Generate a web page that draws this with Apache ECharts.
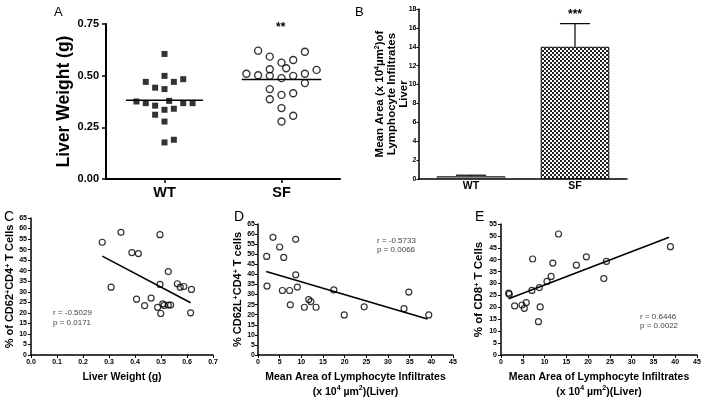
<!DOCTYPE html>
<html><head><meta charset="utf-8">
<script src="https://cdn.jsdelivr.net/npm/echarts@6/dist/echarts.min.js"></script>
<style>html,body{margin:0;padding:0;background:#fff}#c{width:705px;height:403px}</style>
</head><body><div id="c"></div><script>
const FONT = "'Liberation Sans', Arial, sans-serif";

// ---- Panel A: liver weight (g) per mouse, with horizontal jitter within group ----
const groupsA = ['WT', 'SF'];
const wtJitter = [0, 0, -0.16, 0.08, 0.16, -0.08, 0, -0.24, -0.16, 0.16, 0.24, -0.08, 0.04, 0, 0.08, -0.08, 0, 0, 0.08];
const wtWeight = [0.605, 0.499, 0.470, 0.470, 0.483, 0.442, 0.435, 0.375, 0.367, 0.367, 0.367, 0.355, 0.378, 0.335, 0.340, 0.311, 0.278, 0.177, 0.190];
const sfJitter = [-0.2, -0.1, 0.2, 0, 0.1, 0.04, -0.1, 0.3, -0.3, -0.2, -0.1, 0, 0.1, 0.2, 0.2, -0.1, 0, 0.1, -0.1, 0, 0.1, 0];
const sfWeight = [0.621, 0.592, 0.616, 0.563, 0.576, 0.536, 0.531, 0.528, 0.509, 0.502, 0.499, 0.488, 0.499, 0.509, 0.464, 0.435, 0.407, 0.415, 0.386, 0.343, 0.306, 0.278];

// ---- Panel B: mean area of lymphocyte infiltrates (x10^4 um^2) ----
const groupsB = ['WT', 'SF'];
const areaMean = [0.3, 14.0];
const areaSem = [0.1, 2.45];

// ---- Panel C: % CD62+CD4+ vs liver weight ----
const cWeight = [0.274, 0.346, 0.496, 0.388, 0.413, 0.308, 0.528, 0.496, 0.563, 0.574, 0.588, 0.617, 0.406, 0.462, 0.437, 0.487, 0.507, 0.512, 0.528, 0.537, 0.499, 0.614];
const cCD62 = [53.5, 58.2, 57.1, 48.6, 48.1, 32.2, 39.6, 33.5, 33.8, 32.2, 32.5, 31.1, 26.5, 27.0, 23.4, 22.6, 24.3, 23.5, 23.7, 23.7, 19.7, 20.0];
const cFitX = [0.274, 0.614];
const cFitY = [46.9, 24.8];

// ---- Panel D: % CD62L+CD4+ vs infiltrate area ----
const dArea = [3.46, 5.0, 8.7, 2.0, 5.93, 8.7, 2.08, 9.08, 5.63, 7.3, 17.5, 34.8, 7.46, 11.7, 12.2, 10.7, 13.4, 24.5, 33.7, 19.9, 39.4];
const dCD62L = [58.4, 53.6, 57.4, 48.9, 48.4, 39.8, 34.2, 33.7, 32.0, 32.0, 32.3, 31.2, 24.9, 27.5, 26.5, 23.7, 23.7, 23.9, 23.0, 19.9, 19.9];
const dFitX = [1.9, 39.1];
const dFitY = [41.4, 17.9];

// ---- Panel E: % CD8+ vs infiltrate area ----
const eArea = [1.76, 1.9, 3.13, 4.82, 5.35, 5.8, 7.1, 7.26, 8.8, 9.0, 8.6, 10.56, 11.5, 11.9, 13.2, 17.3, 19.6, 23.6, 24.2, 38.9];
const eCD8 = [26.0, 25.5, 20.6, 21.0, 19.6, 22.0, 27.1, 40.3, 28.3, 20.2, 14.0, 30.9, 33.0, 38.6, 50.8, 37.7, 41.2, 32.1, 39.3, 45.5];
const eFitX = [1.75, 38.6];
const eFitY = [23.6, 49.4];

const stats = { C: ['r = -0.5029', 'p = 0.0171'], D: ['r = -0.5733', 'p = 0.0066'], E: ['r = 0.6446', 'p = 0.0022'] };

const zip = (a, b) => a.map((v, i) => [v, b[i]]);
const mean = a => a.reduce((s, v) => s + v, 0) / a.length;

// checker pattern for SF bar
const pc = document.createElement('canvas');
pc.width = 4; pc.height = 4;
const g = pc.getContext('2d');
g.fillStyle = '#fff'; g.fillRect(0, 0, 4, 4);
g.fillStyle = '#222'; g.fillRect(0, 0, 2, 2); g.fillRect(2, 2, 2, 2);

const black = '#000';
function axisCommon(extra) {
  return Object.assign({
    axisLine: { show: true, lineStyle: { color: black, width: 1.5 } },
    axisTick: { show: true, length: 3, lineStyle: { color: black, width: 1 } },
    axisLabel: { color: black, fontFamily: FONT, fontWeight: 'bold', fontSize: 7, margin: 4 },
    splitLine: { show: false },
    nameLocation: 'middle',
    nameTextStyle: { color: black, fontFamily: FONT, fontWeight: 'bold', fontSize: 11 }
  }, extra);
}
const supRich = { sup: { fontSize: 7, fontWeight: 'bold', fontFamily: FONT, color: black, verticalAlign: 'top' } };

const chart = echarts.init(document.getElementById('c'), null, { renderer: 'canvas' });
const gridBase = { containLabel: false, outerBoundsMode: 'none' };
const option = {
  animation: false,
  backgroundColor: '#fff',
  grid: [
    Object.assign({ left: 106, top: 24, width: 234, height: 155 }, gridBase),
    Object.assign({ left: 419, top: 9, width: 208, height: 170 }, gridBase),
    Object.assign({ left: 31, top: 218, width: 182, height: 137 }, gridBase),
    Object.assign({ left: 258, top: 224, width: 195, height: 131 }, gridBase),
    Object.assign({ left: 501, top: 224, width: 196, height: 131 }, gridBase)
  ],
  xAxis: [
    axisCommon({ gridIndex: 0, type: 'category', data: groupsA,
      axisLine: { show: true, lineStyle: { color: black, width: 2 } },
      axisTick: { show: true, alignWithLabel: true, length: 4, lineStyle: { color: black, width: 1.5 } },
      axisLabel: { color: black, fontFamily: FONT, fontWeight: 'bold', fontSize: 14.5, margin: 6 } }),
    { gridIndex: 0, type: 'value', min: 0, max: 2, show: false, splitLine: { show: false } },
    axisCommon({ gridIndex: 1, type: 'category', data: groupsB,
      axisTick: { show: false },
      axisLabel: { color: black, fontFamily: FONT, fontWeight: 'bold', fontSize: 10.5, margin: 2 } }),
    axisCommon({ gridIndex: 2, type: 'value', min: 0, max: 0.7, interval: 0.1,
      axisLabel: { color: black, fontFamily: FONT, fontWeight: 'bold', fontSize: 7, margin: 4, formatter: v => v.toFixed(1) },
      name: 'Liver Weight (g)', nameGap: 17,
      nameTextStyle: { color: black, fontFamily: FONT, fontWeight: 'bold', fontSize: 10.5 } }),
    axisCommon({ gridIndex: 3, type: 'value', min: 0, max: 45, interval: 5,
      name: 'Mean Area of Lymphocyte Infiltrates\n(x 10{sup|4} µm{sup|2})(Liver)', nameGap: 15,
      nameTextStyle: { color: black, fontFamily: FONT, fontWeight: 'bold', fontSize: 10.5, lineHeight: 15, rich: supRich } }),
    axisCommon({ gridIndex: 4, type: 'value', min: 0, max: 45, interval: 5,
      name: 'Mean Area of Lymphocyte Infiltrates\n(x 10{sup|4} µm{sup|2})(Liver)', nameGap: 15,
      nameTextStyle: { color: black, fontFamily: FONT, fontWeight: 'bold', fontSize: 10.5, lineHeight: 15, rich: supRich } })
  ],
  yAxis: [
    axisCommon({ gridIndex: 0, type: 'value', min: 0, max: 0.75, interval: 0.25,
      axisLine: { show: true, lineStyle: { color: black, width: 2 } },
      axisTick: { show: true, length: 4, lineStyle: { color: black, width: 1.5 } },
      axisLabel: { color: black, fontFamily: FONT, fontWeight: 'bold', fontSize: 11, margin: 7, formatter: v => v.toFixed(2) },
      name: 'Liver Weight (g)', nameGap: 33,
      nameTextStyle: { color: black, fontFamily: FONT, fontWeight: 'bold', fontSize: 17.5 } }),
    axisCommon({ gridIndex: 1, type: 'value', min: 0, max: 18, interval: 2,
      axisTick: { show: true, length: 2.5, lineStyle: { color: black, width: 1 } },
      axisLabel: { color: black, fontFamily: FONT, fontWeight: 'bold', fontSize: 7, margin: 2.5 },
      name: 'Mean Area (x 10{sup|4}µm{sup|2})of\nLymphocyte Infiltrates\nLiver', nameGap: 9.5, nameMoveOverlap: false,
      nameTextStyle: { color: black, fontFamily: FONT, fontWeight: 'bold', fontSize: 11.5, lineHeight: 12, rich: { sup: { fontSize: 7, fontWeight: 'bold', fontFamily: FONT, color: black, verticalAlign: 'top' } } } }),
    axisCommon({ gridIndex: 2, type: 'value', min: 0, max: 65, interval: 5,
      name: '% of CD62{sup|+}CD4{sup|+} T Cells', nameGap: 12,
      nameTextStyle: { color: black, fontFamily: FONT, fontWeight: 'bold', fontSize: 11, rich: supRich } }),
    axisCommon({ gridIndex: 3, type: 'value', min: 0, max: 65, interval: 5,
      axisLabel: { color: black, fontFamily: FONT, fontWeight: 'bold', fontSize: 7, margin: 3 },
      name: '% CD62L{sup|+}CD4{sup|+} T cells', nameGap: 13,
      nameTextStyle: { color: black, fontFamily: FONT, fontWeight: 'bold', fontSize: 11, rich: supRich } }),
    axisCommon({ gridIndex: 4, type: 'value', min: 0, max: 55, interval: 5,
      name: '% of CD8{sup|+} T Cells', nameGap: 13,
      nameTextStyle: { color: black, fontFamily: FONT, fontWeight: 'bold', fontSize: 11.5, rich: supRich } })
  ],
  series: [
    { type: 'scatter', xAxisIndex: 1, yAxisIndex: 0, symbol: 'rect', symbolSize: 6,
      itemStyle: { color: black }, data: wtWeight.map((v, i) => [0.5 + wtJitter[i], v]) },
    { type: 'scatter', xAxisIndex: 1, yAxisIndex: 0, symbol: 'circle', symbolSize: 7,
      itemStyle: { color: 'rgba(0,0,0,0)', borderColor: black, borderWidth: 1.4 },
      data: sfWeight.map((v, i) => [1.5 + sfJitter[i], v]) },
    { type: 'line', xAxisIndex: 1, yAxisIndex: 0, symbol: 'none', lineStyle: { color: black, width: 1.5 },
      data: [[0.5 - 0.33, mean(wtWeight)], [0.5 + 0.33, mean(wtWeight)]] },
    { type: 'line', xAxisIndex: 1, yAxisIndex: 0, symbol: 'none', lineStyle: { color: black, width: 1.5 },
      data: [[1.5 - 0.34, mean(sfWeight)], [1.5 + 0.34, mean(sfWeight)]] },
    { type: 'bar', xAxisIndex: 2, yAxisIndex: 1, barWidth: '66%',
      data: [
        { value: areaMean[0], itemStyle: { color: '#9a9a9a', borderColor: '#333', borderWidth: 1 } },
        { value: areaMean[1], itemStyle: { color: { image: pc, repeat: 'repeat' }, borderColor: '#111', borderWidth: 1 } }
      ] },
    { type: 'custom', xAxisIndex: 2, yAxisIndex: 1, z: 5,
      data: groupsB.map((gname, i) => [i, areaMean[i], areaSem[i]]),
      renderItem: function (params, api) {
        const i = api.value(0), m = api.value(1), s = api.value(2);
        const b = api.coord([i, m]), t = api.coord([i, m + s]);
        const w = api.size([1, 0])[0] * 0.145;
        return { type: 'group', children: [
          { type: 'line', shape: { x1: b[0], y1: b[1], x2: t[0], y2: t[1] }, style: { stroke: black, lineWidth: 1.2 } },
          { type: 'line', shape: { x1: t[0] - w, y1: t[1], x2: t[0] + w, y2: t[1] }, style: { stroke: black, lineWidth: 1.2 } }
        ] };
      } },
    { type: 'scatter', xAxisIndex: 3, yAxisIndex: 2, symbolSize: 6,
      itemStyle: { color: 'rgba(0,0,0,0)', borderColor: black, borderWidth: 1.2 }, data: zip(cWeight, cCD62) },
    { type: 'line', xAxisIndex: 3, yAxisIndex: 2, symbol: 'none', lineStyle: { color: black, width: 1.6 }, data: zip(cFitX, cFitY) },
    { type: 'scatter', xAxisIndex: 4, yAxisIndex: 3, symbolSize: 6,
      itemStyle: { color: 'rgba(0,0,0,0)', borderColor: black, borderWidth: 1.2 }, data: zip(dArea, dCD62L) },
    { type: 'line', xAxisIndex: 4, yAxisIndex: 3, symbol: 'none', lineStyle: { color: black, width: 1.6 }, data: zip(dFitX, dFitY) },
    { type: 'scatter', xAxisIndex: 5, yAxisIndex: 4, symbolSize: 6,
      itemStyle: { color: 'rgba(0,0,0,0)', borderColor: black, borderWidth: 1.2 }, data: zip(eArea, eCD8) },
    { type: 'line', xAxisIndex: 5, yAxisIndex: 4, symbol: 'none', lineStyle: { color: black, width: 1.6 }, data: zip(eFitX, eFitY) }
  ],
  graphic: [
    { type: 'text', left: 54, top: 6, style: { text: 'A', font: '13px ' + FONT, fill: black } },
    { type: 'text', left: 355, top: 6, style: { text: 'B', font: '13px ' + FONT, fill: black } },
    { type: 'text', left: 4, top: 210, style: { text: 'C', font: '14px ' + FONT, fill: black } },
    { type: 'text', left: 234, top: 210, style: { text: 'D', font: '14px ' + FONT, fill: black } },
    { type: 'text', left: 475, top: 210, style: { text: 'E', font: '14px ' + FONT, fill: black } },
    { type: 'text', left: 276, top: 22, style: { text: '**', font: 'bold 12px ' + FONT, fill: black } },
    { type: 'text', left: 568, top: 9, style: { text: '***', font: 'bold 12px ' + FONT, fill: black } },
    { type: 'text', left: 53, top: 308, style: { text: stats.C.join('\n'), font: '8px ' + FONT, lineHeight: 10, fill: '#444' } },
    { type: 'text', left: 377, top: 236, style: { text: stats.D.join('\n'), font: '8px ' + FONT, lineHeight: 9.5, fill: '#444' } },
    { type: 'text', left: 640, top: 312, style: { text: stats.E.join('\n'), font: '8px ' + FONT, lineHeight: 9, fill: '#444' } }
  ]
};
chart.setOption(option);
</script></body></html>
